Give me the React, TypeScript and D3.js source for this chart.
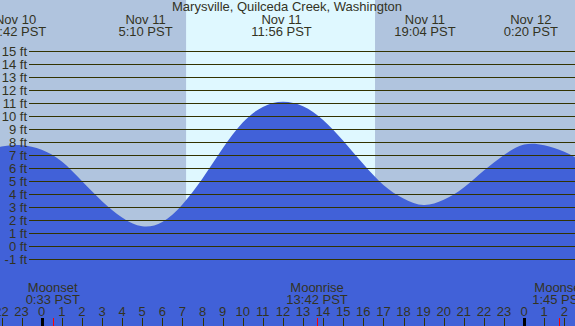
import React from 'react';
import * as d3 from 'd3';

const title = 'Marysville, Quilceda Creek, Washington';

// tide extremes (label lines + hour offset from Nov 11 00:00)
const extremeDays = ['Nov 10', 'Nov 11', 'Nov 11', 'Nov 11', 'Nov 12'];
const extremeTimes = ['22:42 PST', '5:10 PST', '11:56 PST', '19:04 PST', '0:20 PST'];

// moon events
const moonNames = ['Moonset', 'Moonrise', 'Moonset'];
const moonDays = ['Nov 11', 'Nov 11', 'Nov 12'];
const moonTimes = ['0:33 PST', '13:42 PST', '1:45 PST'];

// daylight
const sunrise = 'Nov 11 7:11';
const sunset = 'Nov 11 16:35';

// water height read hourly, from Nov 10 21:00 to Nov 12 03:00
const hours = d3.range(-3, 28);
const heights = [
  7.2, 7.65, 7.75, 7.4, 6.5, 5.0, 3.45, 2.2, 1.52, 1.85, 3.2, 5.2, 7.5, 9.5, 10.7, 11.1,
  10.75, 9.7, 8.1, 6.3, 4.7, 3.65, 3.15, 3.55, 4.5, 5.8, 7.0, 7.8, 7.75, 7.25, 6.4,
];

const feet = d3.range(-1, 16);

const W = 575;
const H = 326;
const ink = '#333300';
const txt = '#33331f';
const font = '"Liberation Sans", Arial, sans-serif';
const fs = 13;

const dayOffset: Record<string, number> = { 'Nov 10': -24, 'Nov 11': 0, 'Nov 12': 24 };
function toHour(day: string, t: string) {
  const [h, m] = t.replace(' PST', '').split(':').map(Number);
  return dayOffset[day] + h + m / 60;
}
function stamp(s: string) {
  const parts = s.split(' ');
  return toHour(parts[0] + ' ' + parts[1], parts[2]);
}

export default function App() {
  const x = d3.scaleLinear().domain([0, 24]).range([41.7, 524.1]);
  const y = d3.scaleLinear().domain([0, 15]).range([246, 51]);

  const pts = hours.map((h, i) => [h, heights[i]] as [number, number]);
  const area = d3
    .area<[number, number]>()
    .x((d) => x(d[0]))
    .y0(H)
    .y1((d) => y(d[1]))
    .curve(d3.curveNatural);

  const tickHours = d3.range(-3, 28);
  const xs = x(stamp(sunrise));
  const xe = x(stamp(sunset));

  return (
    <svg
      width={W}
      height={H}
      style={{ position: 'absolute', left: 0, top: 0, display: 'block' }}
      fontFamily={font}
    >
      <rect x={0} y={0} width={W} height={H} fill="#b0c4de" />
      <rect x={xs} y={0} width={xe - xs} height={H} fill="#dff8ff" />
      <path d={area(pts) || ''} fill="#4161d8" />

      {feet.map((f) => (
        <g key={f}>
          <line
            x1={29}
            x2={W}
            y1={Math.round(y(f)) + 0.5}
            y2={Math.round(y(f)) + 0.5}
            stroke={ink}
            strokeWidth={1.2}
          />
          <text x={27} y={y(f) + 4.5} textAnchor="end" fontSize={fs} fill={txt}>
            {f} ft
          </text>
        </g>
      ))}

      <text x={287} y={11} textAnchor="middle" fontSize={fs} fill={txt}>
        {title}
      </text>

      {extremeTimes.map((t, i) => {
        const cx = x(toHour(extremeDays[i], t));
        return (
          <g key={i}>
            <text x={cx} y={23.5} textAnchor="middle" fontSize={fs} fill={txt}>
              {extremeDays[i]}
            </text>
            <text x={cx} y={35.5} textAnchor="middle" fontSize={fs} fill={txt}>
              {t}
            </text>
          </g>
        );
      })}

      {moonNames.map((n, i) => {
        const cx = x(toHour(moonDays[i], moonTimes[i]));
        return (
          <g key={i}>
            <text x={cx} y={292} textAnchor="middle" fontSize={fs} fill={txt}>
              {n}
            </text>
            <text x={cx} y={304} textAnchor="middle" fontSize={fs} fill={txt}>
              {moonTimes[i]}
            </text>
            <line
              x1={Math.round(cx) + 0.5}
              x2={Math.round(cx) + 0.5}
              y1={318}
              y2={H}
              stroke="#ff0000"
              strokeWidth={1}
            />
          </g>
        );
      })}

      {tickHours.map((h) => {
        const tx = Math.round(x(h)) + 0.5;
        const midnight = ((h % 24) + 24) % 24 === 0;
        return (
          <g key={h}>
            <text x={x(h)} y={316} textAnchor="middle" fontSize={fs} fill={txt}>
              {((h % 24) + 24) % 24}
            </text>
            <line
              x1={tx}
              x2={tx}
              y1={318}
              y2={H}
              stroke={midnight ? '#000000' : ink}
              strokeWidth={midnight ? 3 : 1}
            />
          </g>
        );
      })}
    </svg>
  );
}
